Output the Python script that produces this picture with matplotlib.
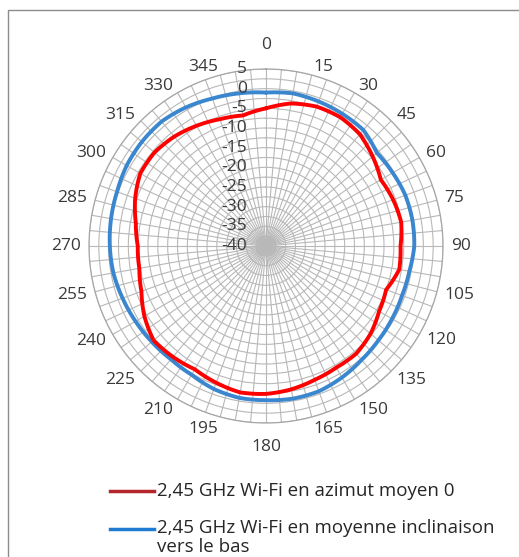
import numpy as np
import matplotlib
matplotlib.use('Agg')
import matplotlib.pyplot as plt
from matplotlib.lines import Line2D
from matplotlib.patches import Rectangle, PathPatch
from matplotlib.path import Path

# angles en degrés (sens horaire, 0 en haut)
angles_deg = [0, 10, 20, 30, 40, 50, 60, 70, 80, 90, 100, 110,
              120, 130, 140, 150, 160, 170, 180, 190, 200, 210, 220, 230,
              240, 250, 260, 270, 280, 290, 300, 310, 320, 330, 340, 350]
azimut_db = [-5.0, -3.2, -2.3, -2.2, -2.9, -4.6, -6.3, -5.6, -5.1, -5.8, -5.6, -7.5,
             -6.8, -5.3, -4.3, -4.3, -3.8, -3.0, -2.4, -2.2, -3.0, -3.8, -3.2, -2.7,
             -4.3, -6.3, -7.3, -7.4, -6.4, -4.6, -3.1, -3.0, -3.7, -4.7, -5.7, -6.3]
inclinaison_db = [-1.0, -0.6, -0.9, -1.2, -1.5, -3.2, -2.8, -2.3, -2.2, -2.3, -3.0, -3.2,
                  -3.0, -2.7, -2.2, -1.4, -0.7, -0.6, -0.8, -0.8, -1.3, -2.2, -2.4, -2.1,
                  -1.7, -1.2, -0.6, -0.3, 0.0, 0.3, 0.9, 1.2, 1.3, 0.7, -0.1, -0.6]
angle_labels = list(range(0, 360, 15))
radial_ticks = [5, 0, -5, -10, -15, -20, -25, -30, -35, -40]
legend_labels = ["2,45 GHz Wi-Fi en azimut moyen 0",
                 "2,45 GHz Wi-Fi en moyenne inclinaison\nvers le bas"]

plt.rcParams['font.family'] = ['Open Sans', 'DejaVu Sans']

W, H = 519, 557
cx, cy, R = 266, 246, 177
fig = plt.figure(figsize=(W / 100, H / 100), dpi=100)
fig.patch.set_facecolor('white')

ax = fig.add_axes([(cx - R) / W, (H - cy - R) / H, 2 * R / W, 2 * R / H], projection='polar')
ax.set_theta_zero_location('N')
ax.set_theta_direction(-1)
ax.set_ylim(-40, 5)
ax.set_xticks(np.deg2rad(np.arange(0, 360, 5)))
ax.set_xticklabels([])
ax.set_yticks(np.arange(-40, 5.1, 2.5))
ax.set_yticklabels([])
ax.tick_params(length=0)
ax.grid(color='#b8b8b8', lw=0.8)
ax.spines['polar'].set_color('#a6a6a6')
ax.spines['polar'].set_linewidth(0.9)


def courbe(values, color, z):
    theta = np.deg2rad(angles_deg + [angles_deg[0] + 360])
    r = np.array(values + [values[0]])
    # interpolation du tracé le long des arcs (rendu seulement)
    p = Path(np.column_stack([theta, r]), _interpolation_steps=12)
    ax.add_patch(PathPatch(p, fill=False, ec=color, lw=2.8, zorder=z,
                           joinstyle='round', capstyle='round'))


courbe(inclinaison_db, '#3a86cf', 5)
courbe(azimut_db, '#ff0000', 6)

# étiquettes radiales le long de l'axe 0
for v in radial_ticks:
    ax.annotate(str(v), xy=(0, v), xytext=(-19, 0), textcoords='offset pixels',
                ha='right', va='center', fontsize=12.5, color='#3a3a3a', zorder=7)

# étiquettes d'angle
r_lab = 185
for a in angle_labels:
    t = np.deg2rad(a)
    x = cx + r_lab * np.sin(t)
    y = cy - r_lab * np.cos(t)
    if a == 0 or a == 180:
        ha = 'center'
        y -= 16 * np.cos(t)
    else:
        ha = 'left' if a < 180 else 'right'
        if 90 < a < 270:
            y -= 4 * np.cos(t)
    fig.text(x / W, 1 - y / H, str(a), ha=ha, va='center', fontsize=12.5, color='#3a3a3a')

# légende
fig.add_artist(Line2D([110 / W, 154 / W], [1 - 490.5 / H] * 2, color='#b5262c', lw=2.5))
fig.text(157 / W, 1 - 490.5 / H, legend_labels[0], ha='left', va='center',
         fontsize=13.5, color='#262626')
fig.add_artist(Line2D([110 / W, 154 / W], [1 - 529 / H] * 2, color='#1f7ad1', lw=2.5))
for i, ligne in enumerate(legend_labels[1].split('\n')):
    fig.text(157 / W, 1 - (528 + 19 * i) / H, ligne, ha='left', va='center',
             fontsize=13.5, color='#262626')

# cadre
fig.add_artist(Rectangle((8 / W, -0.05), 1.2, (H - 9.5) / H + 0.05, transform=fig.transFigure,
                         fill=False, ec='#8c8c8c', lw=1))

fig.savefig('out.png', dpi=100)
